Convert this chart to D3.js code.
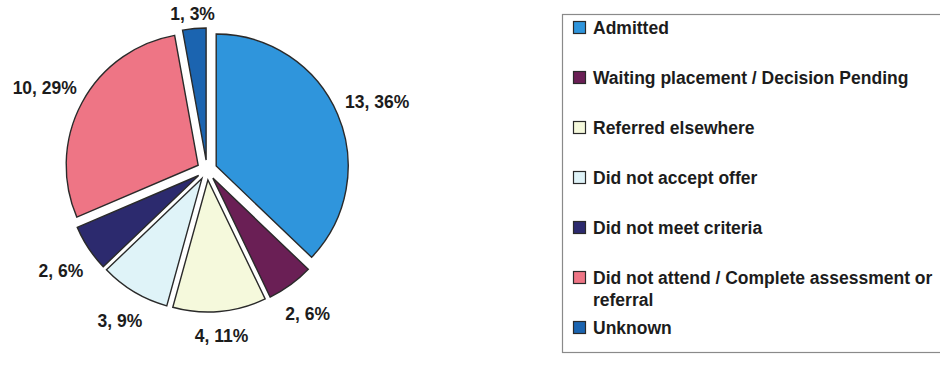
<!DOCTYPE html>
<html>
<head>
<meta charset="utf-8">
<script src="https://cdn.jsdelivr.net/npm/d3@7"></script>
<style>
  html, body { margin: 0; padding: 0; background: #fff; }
  svg { display: block; }
  text { font-family: "Liberation Sans", Arial, sans-serif; font-weight: bold; fill: #1c1c1c; }
</style>
</head>
<body>
<svg id="chart" width="940" height="366"></svg>
<script>
// Referral outcomes: count per outcome and the rounded share printed on each slice
const categories = [
  "Admitted",
  "Waiting placement / Decision Pending",
  "Referred elsewhere",
  "Did not accept offer",
  "Did not meet criteria",
  "Did not attend / Complete assessment or referral",
  "Unknown"
];
const counts = [13, 2, 4, 3, 2, 10, 1];
const sharePct = [36, 6, 11, 9, 6, 29, 3];
const colors = ["#2f95dc", "#6a1f55", "#f5f9dc", "#dff3f8", "#2c2a6e", "#ee7585", "#1b64b0"];

const svg = d3.select("#chart");
const W = 940, H = 366;

// ---- pie ----
const cx = 207, cy = 170, R = 132, explode = 10, labelGap = 11, labelDrop = 5;

const rows = categories.map((c, i) => ({ name: c, count: counts[i], pct: sharePct[i], color: colors[i] }));
const pie = d3.pie().sort(null).value(d => d.count).startAngle(0).endAngle(2 * Math.PI);
const arc = d3.arc().innerRadius(0).outerRadius(R);
const arcs = pie(rows);

const g = svg.append("g").attr("transform", `translate(${cx},${cy})`);

const slice = g.selectAll("g.slice")
  .data(arcs)
  .join("g")
  .attr("class", "slice")
  .attr("transform", d => {
    const a = (d.startAngle + d.endAngle) / 2;
    return `translate(${Math.sin(a) * explode},${-Math.cos(a) * explode})`;
  });

slice.append("path")
  .attr("d", arc)
  .attr("fill", d => d.data.color)
  .attr("stroke", "#2a2a2a")
  .attr("stroke-width", 1.4)
  .attr("stroke-linejoin", "miter");

// labels sit just outside each exploded slice, pushed out by their own box size
const labelFont = 17.5;
const labels = g.selectAll("text.lbl")
  .data(arcs)
  .join("text")
  .attr("class", "lbl")
  .attr("font-size", labelFont)
  .attr("text-anchor", "middle")
  .attr("dominant-baseline", "central")
  .text(d => `${d.data.count}, ${d.data.pct}%`);

labels.each(function (d) {
  const a = (d.startAngle + d.endAngle) / 2;
  const ux = Math.sin(a), uy = -Math.cos(a);
  const w = this.getComputedTextLength();
  const h = labelFont * 0.72;
  const dist = R + explode + labelGap + Math.abs(ux) * w / 2 + Math.abs(uy) * h / 2;
  d3.select(this).attr("x", ux * dist).attr("y", uy * dist + labelDrop);
});

// ---- legend ----
const legX = 562, legTop = 14, legBottom = 352;
svg.append("rect")
  .attr("x", legX + 0.5).attr("y", legTop + 0.5)
  .attr("width", W - legX + 20).attr("height", legBottom - legTop)
  .attr("fill", "#fff")
  .attr("stroke", "#8a8a8a")
  .attr("stroke-width", 1.2);

const legY = d3.scalePoint().domain(categories).range([28, 328]);
const legendFont = 17.5, maxTextW = 365, lineH = 22;

const item = svg.selectAll("g.leg")
  .data(rows)
  .join("g")
  .attr("class", "leg")
  .attr("transform", d => `translate(${legX + 11},${legY(d.name)})`);

item.append("rect")
  .attr("x", 0.5).attr("y", -6.5)
  .attr("width", 12).attr("height", 12)
  .attr("fill", d => d.color)
  .attr("stroke", "#2a2a2a")
  .attr("stroke-width", 1.2);

item.append("text")
  .attr("x", 20)
  .attr("font-size", legendFont)
  .attr("dominant-baseline", "central")
  .each(function (d) {
    // wrap long names onto extra lines
    const t = d3.select(this);
    const words = d.name.split(" ");
    let line = [];
    let tspan = t.append("tspan").attr("x", 20).attr("dy", 0);
    words.forEach(wd => {
      line.push(wd);
      tspan.text(line.join(" "));
      if (tspan.node().getComputedTextLength() > maxTextW && line.length > 1) {
        line.pop();
        tspan.text(line.join(" "));
        line = [wd];
        tspan = t.append("tspan").attr("x", 20).attr("dy", lineH).text(wd);
      }
    });
  });
</script>
</body>
</html>
